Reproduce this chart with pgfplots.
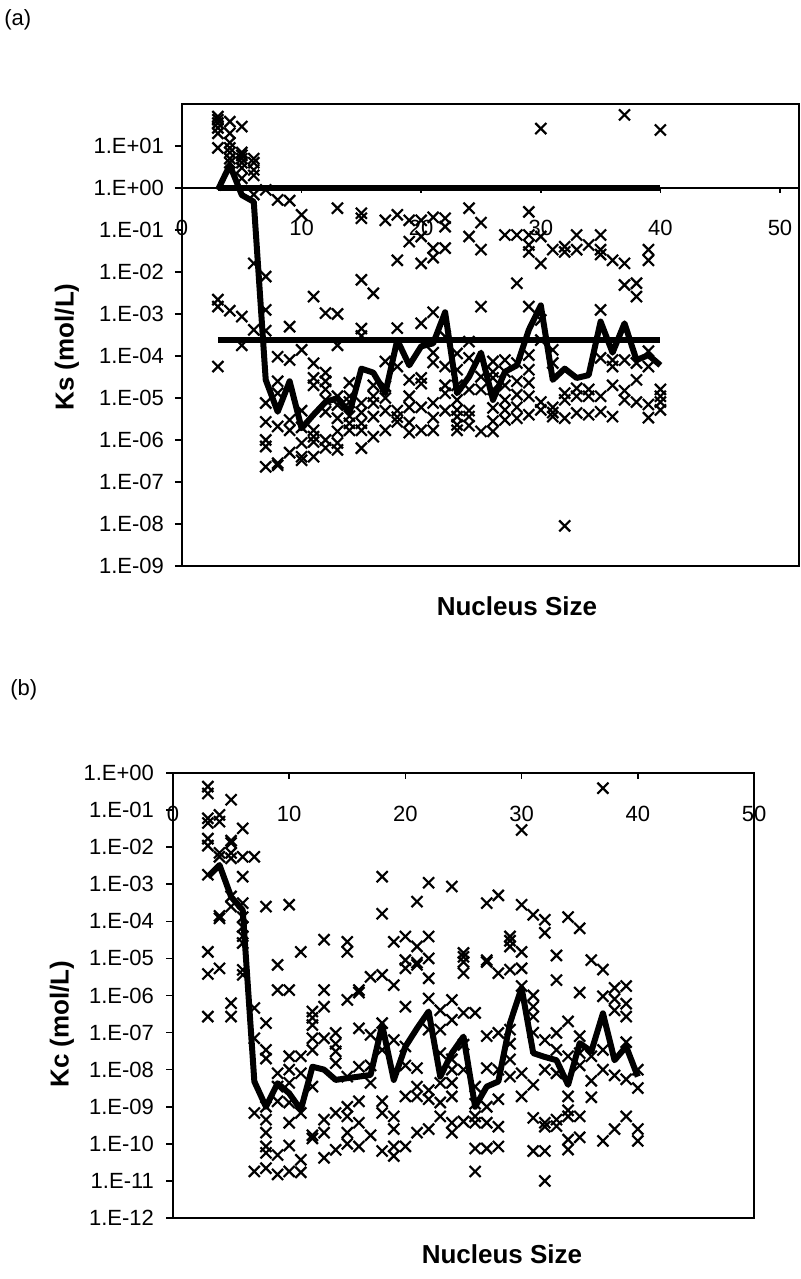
\documentclass[border=0pt]{standalone}
\usepackage{fontspec}
\setmainfont{Liberation Sans}
\usepackage{pgfplots}
\pgfplotsset{compat=1.18}
\pgfplotsset{
  scat/.style={only marks, mark=x, mark size=3.9pt, mark options={line width=1.1pt, black}},
  thick line/.style={black, line width=3pt, no markers, line join=round},
  tl/.style={font=\fontsize{11}{13}\selectfont},
}
\begin{document}
\begin{tikzpicture}
\path[use as bounding box] (0,0) rectangle (400pt,639.5pt);
\node[anchor=west, inner sep=0pt] at (2pt,629.5pt) {\fontsize{11}{13}\selectfont (a)};
\node[anchor=west, inner sep=0pt] at (5pt,294.5pt) {\fontsize{11}{13}\selectfont (b)};
\node[rotate=90] at (33.5pt,466pt) {\fontsize{13}{15}\selectfont\bfseries Ks (mol/L)};
\node[rotate=90] at (31pt,127.5pt) {\fontsize{13}{15}\selectfont\bfseries Kc (mol/L)};
\node at (258.5pt,336.5pt) {\fontsize{13}{15}\selectfont\bfseries Nucleus Size};
\node at (251pt,12.5pt) {\fontsize{13}{15}\selectfont\bfseries Nucleus Size};

% ---------------- Panel (a)
\begin{axis}[
  at={(91pt,356.5pt)}, anchor=south west, scale only axis,
  width=308.5pt, height=231pt,
  xmin=0, xmax=51.59, ymode=log, ymin=1e-9, ymax=1e2,
  xtick=\empty,
  ytick={1e-9,1e-8,1e-7,1e-6,1e-5,1e-4,1e-3,1e-2,1e-1,1,10},
  yticklabels={1.E-09,1.E-08,1.E-07,1.E-06,1.E-05,1.E-04,1.E-03,1.E-02,1.E-01,1.E+00,1.E+01},
  yminorticks=false, ytick pos=left, tick align=outside, major tick length=3.5pt,
  tick style={black, line width=0.8pt}, axis line style={line width=0.9pt},
  yticklabel style={tl, xshift=-2pt},
]
\addplot[scat] table {
x y
3 50
3 42
3 35
3 27
3 20
3 9
3 2.2e-3
3 1.5e-3
3 5.6e-5
4 38
4 20
4 12
4 9
4 7
4 5
4 4
4 1.2e-3
5 29
5 7
5 6
5 5
5 4
5 3
5 1.7
5 8.7e-4
5 1.8e-4
6 5
6 4
6 2.7
6 2
6 0.7
6 1.6e-2
6 4.2e-4
7 0.9
7 7.8e-3
7 1.25e-3
7 4e-4
7 7.6e-6
7 2.7e-6
7 1e-6
7 7e-7
7 2.3e-7
8 0.52
8 9.6e-5
8 2.5e-5
8 1.3e-5
8 2.1e-6
8 2.8e-7
8 2.5e-7
9 0.5
9 5e-4
9 8e-5
9 3e-6
9 1.7e-6
9 5e-7
10 0.23
10 1.4e-4
10 5e-6
10 2e-6
10 8.5e-7
10 4e-7
10 3.3e-7
11 2.6e-3
11 6.7e-5
11 3e-5
11 2e-5
11 1.7e-6
11 1.2e-6
11 9e-7
11 4e-7
12 1.05e-3
12 4e-5
12 2.5e-5
12 1.6e-5
12 9e-6
12 4.7e-6
12 1e-6
12 6.5e-7
13 0.33
13 1e-3
13 1.8e-4
13 1.1e-5
13 6.8e-6
13 3.3e-6
13 1.6e-6
13 8.5e-7
13 5.8e-7
14 2.3e-5
14 1.1e-5
14 8e-6
14 3.7e-6
14 2.5e-6
14 1.7e-6
15 0.25
15 0.19
15 6.5e-3
15 4.5e-4
15 3e-4
15 7.6e-6
15 4.5e-6
15 2.5e-6
15 1.7e-6
15 6.4e-7
16 3.1e-3
16 2e-5
16 1.1e-5
16 7.6e-6
16 3.6e-6
16 1.2e-6
17 0.17
17 7.4e-5
17 1.9e-5
17 1e-5
17 5e-6
17 1.7e-6
18 0.23
18 1.9e-2
18 4.6e-4
18 5.6e-5
18 5e-6
18 3.5e-6
18 2.7e-6
19 0.17
19 5.3e-2
19 2.7e-5
19 1.1e-5
19 6e-6
19 2.6e-6
19 1.5e-6
20 0.17
20 7e-2
20 1.6e-2
20 6e-4
20 3e-5
20 2.2e-5
20 6e-6
20 1.7e-6
21 0.2
21 3.7e-2
21 2.2e-2
21 1.1e-3
21 1.2e-4
21 7e-5
21 7.6e-6
21 3.4e-6
21 1.7e-6
22 0.19
22 0.12
22 3.7e-2
22 2.9e-4
22 5.6e-5
22 2e-5
22 1.3e-5
22 5e-6
23 1.15e-4
23 4.7e-5
23 2e-5
23 9e-6
23 5.2e-6
23 3.6e-6
23 2.3e-6
23 1.7e-6
24 0.33
24 7e-2
24 2.2e-4
24 9e-5
24 1.6e-5
24 5e-6
24 3.6e-6
24 2.2e-6
25 0.15
25 3.4e-2
25 1.5e-3
25 3.2e-5
25 1.6e-5
25 1.6e-6
26 7.4e-5
26 4.2e-5
26 3e-5
26 1.6e-5
26 5.8e-6
26 2.8e-6
26 1.6e-6
27 7.6e-2
27 8e-5
27 4.2e-5
27 2e-5
27 9e-6
27 5.2e-6
27 3e-6
28 7.6e-2
28 5.4e-3
28 6.8e-5
28 2.5e-5
28 1.2e-5
28 6e-6
28 3.3e-6
29 0.27
29 7.6e-2
29 4.4e-2
29 3e-2
29 1.5e-3
29 1.05e-4
29 4.7e-5
29 2.3e-5
29 1.1e-5
29 4e-6
30 26
30 7e-2
30 1.6e-2
30 7.2e-4
30 2.4e-4
30 8e-6
30 5.2e-6
31 3.4e-2
31 1.4e-4
31 6.8e-5
31 6e-6
31 4.5e-6
31 3.6e-6
32 4e-2
32 3e-2
32 1.3e-5
32 9e-6
32 3.3e-6
32 9e-9
33 7.6e-2
33 3.4e-2
33 1.7e-5
33 1.1e-5
33 4.4e-6
34 4.4e-2
34 1.6e-5
34 1.1e-5
34 4e-6
35 7.6e-2
35 3.4e-2
35 2.6e-2
35 1.25e-3
35 9e-5
35 1.1e-5
35 4.7e-6
36 1.9e-2
36 8e-5
36 5.6e-5
36 2e-5
36 3.6e-6
37 55
37 1.6e-2
37 4.9e-3
37 8e-5
37 1.5e-5
37 9e-6
38 5.4e-3
38 2.6e-3
38 6.8e-5
38 2.7e-5
38 8e-6
39 3.4e-2
39 1.9e-2
39 1.3e-4
39 5.6e-5
39 7e-6
39 3.4e-6
40 24
40 1.6e-5
40 1.1e-5
40 8e-6
40 5.2e-6
};
\addplot[thick line] table {
x y
3 1
40 1
};
\addplot[thick line] table {
x y
3 2.4e-4
40 2.4e-4
};
\addplot[thick line] table {
x y
3 0.9
4 3.5
5 0.68
6 0.47
7 2.7e-5
8 4.7e-6
9 2.5e-5
10 1.9e-6
11 4e-6
12 8e-6
13 1e-5
14 4.4e-6
15 5e-5
16 4e-5
17 1.3e-5
18 2.4e-4
19 6e-5
20 1.7e-4
21 2e-4
22 1.1e-3
23 1.3e-5
24 3.2e-5
25 1.2e-4
26 9e-6
27 4.2e-5
28 6e-5
29 4.2e-4
30 1.6e-3
31 2.7e-5
32 5e-5
33 3e-5
34 3.5e-5
35 6.6e-4
36 1.2e-4
37 6e-4
38 8e-5
39 1.05e-4
40 6e-5
};
\end{axis}
\begin{axis}[
  at={(91pt,356.5pt)}, anchor=south west, scale only axis,
  width=308.5pt, height=231pt,
  xmin=0, xmax=51.59, ymin=-9, ymax=2,
  axis x line=middle, axis y line=none,
  axis line style={-, line width=0.9pt},
  xtick={0,10,20,30,40,50}, xticklabels={0,10,20,30,40,50},
  tick align=outside, major tick length=2.5pt,
  tick style={black, line width=0.8pt},
  xticklabel style={tl, anchor=center, yshift=-17.5pt},
]
\end{axis}

% ---------------- Panel (b)
\begin{axis}[
  at={(86.5pt,30.5pt)}, anchor=south west, scale only axis,
  width=290.5pt, height=222.5pt,
  xmin=0, xmax=50, ymode=log, ymin=1e-12, ymax=1,
  xtick=\empty,
  ytick={1e-12,1e-11,1e-10,1e-9,1e-8,1e-7,1e-6,1e-5,1e-4,1e-3,1e-2,1e-1,1},
  yticklabels={1.E-12,1.E-11,1.E-10,1.E-09,1.E-08,1.E-07,1.E-06,1.E-05,1.E-04,1.E-03,1.E-02,1.E-01,1.E+00},
  yminorticks=false, ytick pos=left, tick align=outside, major tick length=3.5pt,
  tick style={black, line width=0.8pt}, axis line style={line width=0.9pt},
  yticklabel style={tl, xshift=-2.5pt},
]
\addplot[scat] table {
x y
3 0.43
3 0.28
3 6e-2
3 4.5e-2
3 1.7e-2
3 1.1e-2
3 1.8e-3
3 1.5e-5
3 3.8e-6
3 2.7e-7
4 7.4e-2
4 4.9e-2
4 7e-3
4 5.5e-3
4 1.4e-4
4 1.2e-4
4 5.4e-6
5 0.19
5 1.5e-2
5 1.3e-2
5 7e-3
5 5e-3
5 4.7e-4
5 2.5e-4
5 6.2e-7
5 2.7e-7
6 3.2e-2
6 5.5e-3
6 1.6e-3
6 3.1e-4
6 1.3e-4
6 7e-5
6 4e-5
6 2.6e-5
6 4.9e-6
6 3.6e-6
7 5.5e-3
7 4.6e-7
7 7e-8
7 6.8e-10
7 1.8e-11
8 2.5e-4
8 1.8e-7
8 3.4e-8
8 2e-8
8 1e-9
8 4.5e-10
8 2e-10
8 8.5e-11
8 5.7e-11
8 2.2e-11
9 6.7e-6
9 1.4e-6
9 8e-9
9 3.5e-9
9 1.4e-9
9 5e-11
9 1.5e-11
10 2.8e-4
10 1.4e-6
10 2.3e-8
10 1e-8
10 4.4e-9
10 1.3e-9
10 3.7e-10
10 9e-11
10 1.8e-11
11 1.5e-5
11 2.3e-8
11 8e-9
11 6.8e-10
11 3.7e-11
11 1.7e-11
12 3.7e-7
12 2.5e-7
12 1.6e-7
12 7e-8
12 3.4e-8
12 3.5e-9
12 1.7e-10
12 1.4e-10
13 3.2e-5
13 1.4e-6
13 5e-7
13 7e-8
13 4.5e-10
13 2e-10
13 4.2e-11
14 9.8e-8
14 5e-8
14 3.1e-8
14 1.5e-8
14 6.8e-10
14 6.9e-11
15 2.8e-5
15 1.5e-5
15 7.6e-7
15 6.5e-9
15 1e-9
15 5.5e-10
15 2e-10
15 1e-10
16 1.4e-6
16 1.2e-6
16 1.3e-7
16 1.2e-8
16 1.4e-9
16 3.7e-10
16 8.5e-11
17 3.2e-6
17 8.7e-8
17 1.3e-8
17 4.4e-9
17 1.7e-10
18 1.6e-3
18 1.6e-4
18 3.6e-6
18 1.8e-7
18 3.4e-8
18 1.4e-9
18 6.8e-10
18 6.4e-11
19 2.8e-5
19 1.9e-6
19 6.3e-8
19 5.5e-10
19 2.5e-10
19 8.5e-11
19 4.7e-11
20 3.9e-5
20 9e-6
20 5.4e-6
20 5e-7
20 4.2e-8
20 1.3e-8
20 1.9e-9
20 8.5e-11
21 3.4e-4
21 2.1e-5
21 7.7e-6
21 6.7e-6
21 1.1e-8
21 3.5e-9
21 1.9e-9
21 2e-10
22 1.1e-3
22 3.9e-5
22 1e-5
22 2.9e-6
22 8.3e-7
22 1.2e-7
22 2.8e-9
22 1.6e-9
22 2.5e-10
23 4e-7
23 1.2e-7
23 2.8e-8
23 4.4e-9
23 1.3e-9
23 5.5e-10
24 8.7e-4
24 7.6e-7
24 2.2e-7
24 1.9e-8
24 1e-8
24 4.4e-9
24 1.9e-9
24 3.7e-10
24 2e-10
25 1.4e-5
25 1.1e-5
25 8e-6
25 4e-6
25 3.4e-7
25 4.7e-8
25 1e-8
25 4e-10
26 3.4e-7
26 3.5e-9
26 1.2e-9
26 5.5e-10
26 3.7e-10
26 7.5e-11
26 1.8e-11
27 3.1e-4
27 9e-6
27 8e-6
27 8e-8
27 1.1e-8
27 1e-9
27 3.7e-10
27 7.5e-11
28 5e-4
28 4e-6
28 9.8e-8
28 1e-8
28 1.6e-9
28 2.9e-10
28 8.5e-11
29 3.9e-5
29 3e-5
29 2.1e-5
29 5e-6
29 1.2e-7
29 5e-8
29 1.9e-8
29 6.5e-9
30 2.9e-2
30 2.8e-4
30 1.5e-5
30 5.4e-6
30 1.8e-6
30 8e-9
30 1.9e-9
31 1.5e-4
31 1e-6
31 5e-7
31 2.7e-7
31 1e-7
31 3.9e-9
31 5e-10
31 6.4e-11
32 1.1e-4
32 4.9e-5
32 6.3e-8
32 1e-8
32 3.7e-10
32 2.9e-10
32 6.4e-11
32 1e-11
33 1.2e-5
33 2.6e-6
33 9.8e-8
33 3.4e-8
33 8e-9
33 4.5e-10
33 3e-10
34 1.3e-4
34 2e-7
34 2.3e-8
34 1.9e-9
34 8e-10
34 5.5e-10
34 1.3e-10
34 7e-11
35 6.5e-5
35 1.2e-6
35 8e-8
35 2.8e-8
35 1.3e-8
35 5.5e-10
35 1.5e-10
36 9e-6
36 2.3e-8
36 5e-9
36 1.8e-9
37 0.39
37 5e-6
37 9.5e-7
37 3.4e-8
37 1e-8
37 1.2e-10
38 1.6e-6
38 8e-7
38 4e-7
38 7e-9
38 2.5e-10
39 1.8e-6
39 6e-7
39 2.7e-7
39 5.5e-8
39 5.5e-9
39 5.5e-10
40 1e-8
40 3.2e-9
40 2.5e-10
40 1.2e-10
};
\addplot[thick line] table {
x y
3 1.6e-3
4 3.3e-3
5 4.6e-4
6 2e-4
7 4.8e-9
8 1e-9
9 4.3e-9
10 2.3e-9
11 8.3e-10
12 1.2e-8
13 1e-8
14 5.3e-9
15 5.9e-9
16 6.5e-9
17 7.2e-9
18 1.6e-7
19 5.3e-9
20 4.2e-8
21 1.3e-7
22 3.7e-7
23 6.5e-9
24 2.8e-8
25 7.8e-8
26 1e-9
27 3.5e-9
28 4.8e-9
29 1.8e-7
30 1.6e-6
31 2.8e-8
32 2.2e-8
33 1.8e-8
34 3.9e-9
35 5.2e-8
36 3.1e-8
37 3.3e-7
38 1.8e-8
39 4.2e-8
40 6.5e-9
};
\end{axis}
\begin{axis}[
  at={(86.5pt,30.5pt)}, anchor=south west, scale only axis,
  width=290.5pt, height=222.5pt,
  xmin=0, xmax=50, ymin=-12, ymax=0,
  axis x line=middle, axis y line=none,
  axis line style={-, line width=0.9pt},
  xtick={0,10,20,30,40,50}, xticklabels={0,10,20,30,40,50},
  tick align=outside, major tick length=3pt,
  tick style={black, line width=0.8pt},
  xticklabel style={tl, anchor=center, yshift=-17.5pt},
]
\end{axis}
\end{tikzpicture}
\end{document}
